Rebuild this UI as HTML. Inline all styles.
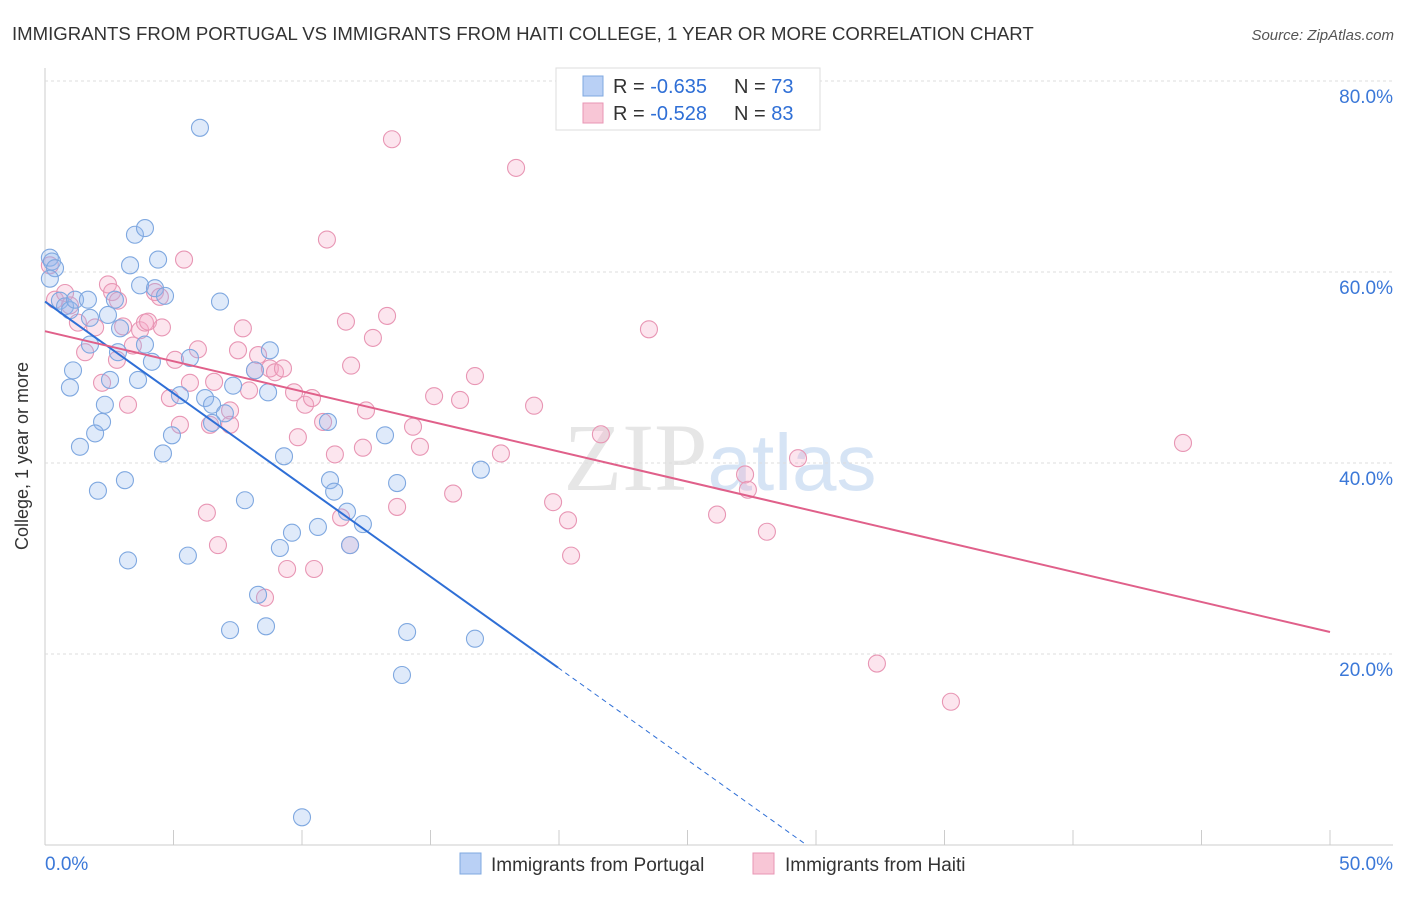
<!DOCTYPE html>
<html><head><meta charset="utf-8"><style>
body{margin:0;background:#fff;font-family:"Liberation Sans",sans-serif;}
</style></head><body>
<svg width="1406" height="892" xmlns="http://www.w3.org/2000/svg" id="chart" font-family="Liberation Sans, sans-serif">
<text x="12" y="40" font-size="18.6" fill="#333">IMMIGRANTS FROM PORTUGAL VS IMMIGRANTS FROM HAITI COLLEGE, 1 YEAR OR MORE CORRELATION CHART</text>
<text x="1394" y="40" font-size="15" fill="#555" font-style="italic" text-anchor="end">Source: ZipAtlas.com</text>
<text x="720" y="490" font-size="96" fill="#e6e6e6" text-anchor="middle" font-family="Liberation Serif, serif">ZIP<tspan fill="#d6e4f5" font-family="Liberation Sans, sans-serif" font-size="80">atlas</tspan></text>
<text transform="translate(28,456) rotate(-90)" font-size="18" fill="#333" text-anchor="middle">College, 1 year or more</text>
<g id="grid"></g><g id="marks"></g><g id="lines"></g>
<g>
<rect x="556" y="68" width="264" height="62" fill="#fff" stroke="#ddd"/>
<rect x="583" y="76" width="20" height="20" fill="#b9d0f5" stroke="#7fa8e0"/>
<rect x="583" y="103" width="20" height="20" fill="#f8c6d6" stroke="#e896b4"/>
<text x="613" y="93" font-size="20" fill="#333">R = <tspan fill="#2f6fd6">-0.635</tspan></text>
<text x="734" y="93" font-size="20" fill="#333">N = <tspan fill="#2f6fd6">73</tspan></text>
<text x="613" y="120" font-size="20" fill="#333">R = <tspan fill="#2f6fd6">-0.528</tspan></text>
<text x="734" y="120" font-size="20" fill="#333">N = <tspan fill="#2f6fd6">83</tspan></text>
</g>
<g>
<rect x="460" y="853" width="21" height="21" fill="#b9d0f5" stroke="#7fa8e0"/>
<text x="491" y="871" font-size="19" fill="#333">Immigrants from Portugal</text>
<rect x="753" y="853" width="21" height="21" fill="#f8c6d6" stroke="#e896b4"/>
<text x="785" y="871" font-size="19" fill="#333">Immigrants from Haiti</text>
</g>
</svg>
<script>
const yTicks=[20,40,60,80];
const xTickLabels=["0.0%","50.0%"];
const portugalX=[.19,.27,.39,.19,.58,.78,.97,1.17,1.67,1.75,2.45,2.72,2.92,1.75,2.84,3.89,1.09,.97,2.53,3.62,4.16,2.33,2.22,1.95,1.36,2.06,3.11,3.31,3.5,3.89,3.7,4.28,4.4,4.67,6.03,6.81,5.64,5.25,4.94,4.59,6.23,6.5,7.0,6.5,7.32,8.75,8.17,8.68,7.78,5.56,3.23,7.2,8.29,8.6,9.14,9.3,9.61,10.62,11.01,11.09,11.25,11.75,11.87,12.37,13.23,13.7,14.09,13.89,16.96,16.73,10.0];
const portugalY=[61.5,61.1,60.4,59.3,57.0,56.4,56.0,57.1,57.1,55.2,55.5,57.1,54.1,52.4,51.6,52.4,49.7,47.9,48.7,48.7,50.6,46.1,44.3,43.1,41.7,37.1,38.2,60.7,63.9,64.6,58.6,58.3,61.3,57.5,75.1,56.9,51.0,47.1,42.9,41.0,46.8,46.1,45.2,44.2,48.1,51.8,49.7,47.4,36.1,30.3,29.8,22.5,26.2,22.9,31.1,40.7,32.7,33.3,44.3,38.2,37.0,34.9,31.4,33.6,42.9,37.9,22.3,17.8,39.3,21.6,2.9];
const haitiX=[13.5,18.33,10.97,5.41,.19,.39,.78,.97,1.28,1.95,2.45,2.61,2.84,3.04,3.7,4.28,4.47,3.89,3.42,2.8,2.22,1.56,3.23,4.01,4.55,5.06,5.95,5.64,6.58,4.86,5.25,6.42,7.2,7.2,6.3,6.73,7.7,7.51,8.29,8.17,7.94,8.75,8.95,9.26,9.69,10.12,10.39,10.82,9.84,11.71,13.31,12.76,11.91,12.49,11.28,12.37,11.52,11.87,9.42,10.47,8.56,13.7,14.32,14.59,15.14,16.15,16.73,15.88,17.74,19.03,19.77,20.35,20.47,21.63,23.5,26.15,27.24,27.35,28.09,29.3,44.28,32.37,35.25];
const haitiY=[73.9,70.9,63.4,61.3,60.7,57.1,57.8,56.5,54.7,54.2,58.7,57.9,57.0,54.3,53.9,57.9,57.4,54.7,52.3,50.8,48.4,51.6,46.1,54.8,54.2,50.8,51.9,48.4,48.5,46.8,44.0,44.0,45.5,44.0,34.8,31.4,54.1,51.8,51.3,49.7,47.6,49.9,49.5,49.9,47.4,46.1,46.8,44.3,42.7,54.8,55.4,53.1,50.2,45.5,40.9,41.6,34.3,31.4,28.9,28.9,25.9,35.4,43.8,41.7,47.0,46.6,49.1,36.8,41.0,46.0,35.9,34.0,30.3,43.0,54.0,34.6,38.8,37.2,32.8,40.5,42.1,19.0,15.0];
const portugalTrend=[56.9,-1.92]; // intercept, slope
const haitiTrend=[53.8,-0.63];
const NS="http://www.w3.org/2000/svg";
const X0=45,X1=1330,Y0=845,PPY=9.55;
const sx=v=>X0+(X1-X0)*v/50, sy=v=>Y0-v*PPY;
function mk(tag,attrs,parent){const e=document.createElementNS(NS,tag);for(const k in attrs)e.setAttribute(k,attrs[k]);parent.appendChild(e);return e;}
const grid=document.getElementById('grid'),marks=document.getElementById('marks'),lines=document.getElementById('lines');
let ax=mk('line',{x1:X0,y1:68,x2:X0,y2:Y0,stroke:'#ccc'},grid);


let bx=mk('line',{x1:X0,y1:Y0,x2:1393,y2:Y0,stroke:'#ccc'},grid);


yTicks.forEach(t=>{
 const g=mk('line',{x1:X0,y1:sy(t),x2:1393,y2:sy(t),stroke:'#ddd','stroke-dasharray':'3,3'},grid);
 
 
 const l=mk('text',{x:1393,y:sy(t)+22,'font-size':19,fill:'#3b78d8','text-anchor':'end'},grid);
 l.textContent=t.toFixed(1)+'%';
 
 
});
for(let i=0;i<=10;i++){
 const t=mk('line',{x1:sx(i*5),y1:830,x2:sx(i*5),y2:Y0,stroke:'#ccc'},grid);
 
 
}
xTickLabels.forEach((s,i)=>{
 const l=mk('text',{x:i?1393:45,y:870,'font-size':19,fill:'#3b78d8','text-anchor':i?'end':'start'},grid);
 l.textContent=s;
 
 
});
function pts(xs,ys,fill,stroke,name){xs.forEach((x,i)=>{
 const c=mk('circle',{cx:sx(x),cy:sy(ys[i]),r:8.5,fill:fill,stroke:stroke,'stroke-width':1.1},marks);
 
 
});}
pts(haitiX,haitiY,'rgba(245,170,198,0.3)','#e896b4','point-haiti');
pts(portugalX,portugalY,'rgba(150,185,240,0.3)','#7fa8e0','point-portugal');
const [pa,pb]=portugalTrend, xEndSolid=19.96, xZero=-pa/pb;
let l1=mk('line',{x1:sx(0),y1:sy(pa),x2:sx(xEndSolid),y2:sy(pa+pb*xEndSolid),stroke:'#2f6fd6','stroke-width':2},lines);


let l2=mk('line',{x1:sx(xEndSolid),y1:sy(pa+pb*xEndSolid),x2:sx(xZero),y2:sy(0),stroke:'#2f6fd6','stroke-width':1,'stroke-dasharray':'5,4'},lines);


const [ha,hb]=haitiTrend;
let l3=mk('line',{x1:sx(0),y1:sy(ha),x2:sx(50),y2:sy(ha+hb*50),stroke:'#e0608a','stroke-width':2},lines);


</script>
</body></html>
